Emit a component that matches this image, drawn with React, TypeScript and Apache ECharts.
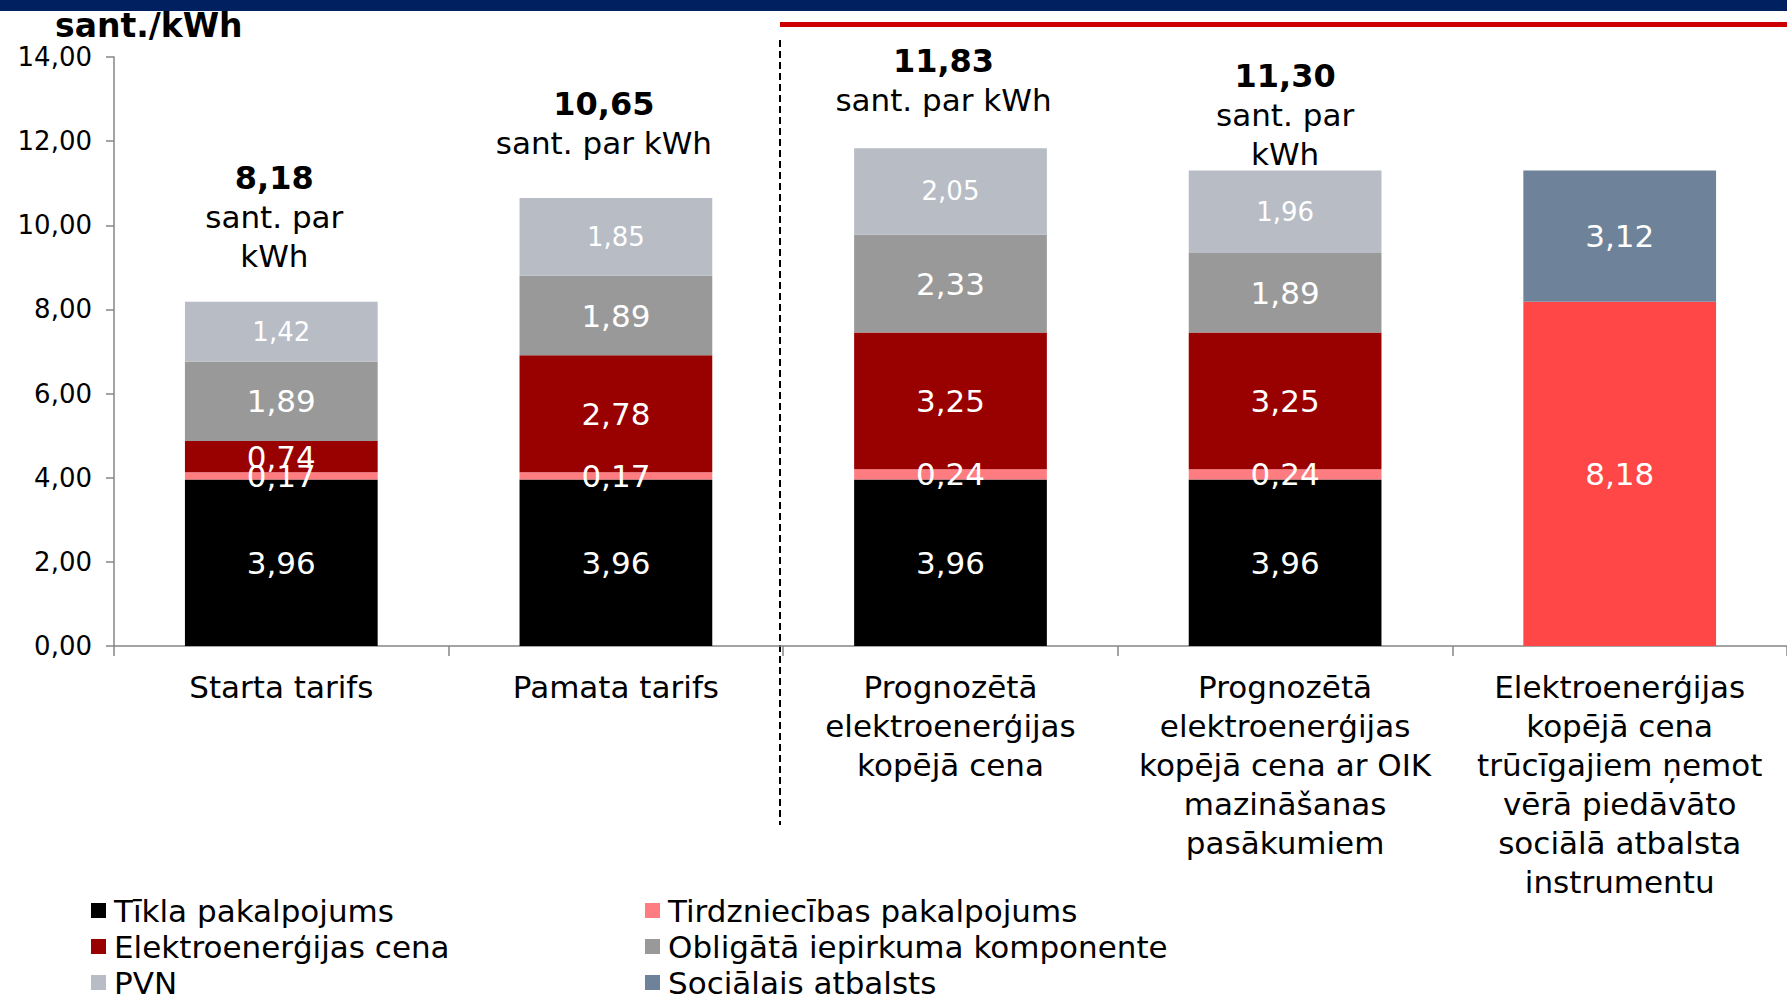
import React, { useEffect, useRef } from "react";
import * as echarts from "echarts";

const FONT = "'DejaVu Sans', Verdana, sans-serif";

const categories = [
  "Starta tarifs",
  "Pamata tarifs",
  "Prognozētā\nelektroenerģijas\nkopējā cena",
  "Prognozētā\nelektroenerģijas\nkopējā cena ar OIK\nmazināšanas\npasākumiem",
  "Elektroenerģijas\nkopējā cena\ntrūcīgajiem ņemot\nvērā piedāvāto\nsociālā atbalsta\ninstrumentu",
];

const seriesNames = [
  "Tīkla pakalpojums",
  "Tirdzniecības pakalpojums",
  "Elektroenerģijas cena",
  "Obligātā iepirkuma komponente",
  "PVN",
  "Sociālais atbalsts",
];

const tiklaPakalpojums = [3.96, 3.96, 3.96, 3.96, null];
const tirdzniecibasPakalpojums = [0.17, 0.17, 0.24, 0.24, null];
const elektroenergijasCena = [0.74, 2.78, 3.25, 3.25, null];
const obligataKomponente = [1.89, 1.89, 2.33, 1.89, null];
const pvn = [1.42, 1.85, 2.05, 1.96, null];
const kopejaCenaTrucigajiem = [null, null, null, null, 8.18];
const socialaisAtbalsts = [null, null, null, null, 3.12];

const totalCaptions = ["sant. par\nkWh", "sant. par kWh", "sant. par kWh", "sant. par\nkWh", ""];

const yMin = 0;
const yMax = 14;
const yInterval = 2;

// label placement (offsets in px), kept apart from data
const totalLabelOffsets = [
  [-7, -26],
  [-12, -35],
  [-7, -28],
  [0, 3],
  [0, 0],
];

const colors = {
  tikla: "#000000",
  tirdz: "#FF7C80",
  elektro: "#990000",
  oik: "#999999",
  pvn: "#B7BCC5",
  kopeja: "#FF4747",
  soc: "#6E8399",
};

const fmt = (v: number) => v.toFixed(2).replace(".", ",");

const stackSeq = [tiklaPakalpojums, tirdzniecibasPakalpojums, elektroenergijasCena, obligataKomponente, pvn, kopejaCenaTrucigajiem, socialaisAtbalsts];
const totals = categories.map((_, i) =>
  stackSeq.reduce((s, arr) => s + ((arr[i] as number | null) ?? 0), 0)
);

export default function App() {
  const ref = useRef<HTMLDivElement>(null);

  useEffect(() => {
    if (!ref.current) return;
    const chart = echarts.init(ref.current, null, { renderer: "svg" });

    const barLabel = (size: number) => ({
      show: true,
      position: "inside",
      color: "#ffffff",
      fontFamily: FONT,
      fontSize: size,
      formatter: (p: any) => (p.value == null ? "" : fmt(p.value)),
    });

    const bar = (name: string, data: (number | null)[], color: string, labelSize = 31) => ({
      name,
      type: "bar",
      stack: "total",
      barWidth: "57.6%",
      data,
      itemStyle: { color },
      label: barLabel(labelSize),
      emphasis: { disabled: true },
    });

    const legendCommon = {
      orient: "vertical",
      padding: 0,
      itemGap: 5,
      itemWidth: 15,
      itemHeight: 15,
      icon: "rect",
      selectedMode: false,
      height: 200,
      textStyle: {
        fontFamily: FONT,
        fontSize: 31,
        lineHeight: 31,
        color: "#000",
        padding: [0, 0, 0, 3],
      },
    };

    const option: any = {
      animation: false,
      backgroundColor: "#ffffff",
      textStyle: { fontFamily: FONT },
      grid: { left: 114, right: 0, top: 57, bottom: 356, containLabel: false },
      legend: [
        { ...legendCommon, left: 91, top: 895, data: [seriesNames[0], seriesNames[2], seriesNames[4]] },
        { ...legendCommon, left: 645, top: 895, data: [seriesNames[1], seriesNames[3], seriesNames[5]] },
      ],
      xAxis: {
        type: "category",
        data: categories,
        axisLine: { lineStyle: { color: "#868686", width: 1.5 } },
        axisTick: { show: true, length: 10, lineStyle: { color: "#868686", width: 1.5 } },
        axisLabel: {
          interval: 0,
          margin: 21,
          color: "#000",
          fontFamily: FONT,
          fontSize: 31,
          lineHeight: 39,
        },
      },
      yAxis: {
        type: "value",
        min: yMin,
        max: yMax,
        interval: yInterval,
        splitLine: { show: false },
        axisLine: { show: true, lineStyle: { color: "#868686", width: 1.5 } },
        axisTick: { show: true, length: 8, lineStyle: { color: "#868686", width: 1.5 } },
        axisLabel: {
          margin: 22,
          color: "#000",
          fontFamily: FONT,
          fontSize: 26,
          formatter: (v: number) => fmt(v),
        },
      },
      series: [
        bar(seriesNames[0], tiklaPakalpojums, colors.tikla),
        bar(seriesNames[1], tirdzniecibasPakalpojums, colors.tirdz),
        bar(seriesNames[2], elektroenergijasCena, colors.elektro),
        bar(seriesNames[3], obligataKomponente, colors.oik),
        bar(seriesNames[4], pvn, colors.pvn, 26),
        bar("Kopējā cena trūcīgajiem", kopejaCenaTrucigajiem, colors.kopeja),
        bar(seriesNames[5], socialaisAtbalsts, colors.soc),
        {
          name: "Kopā",
          type: "line",
          data: totals.map((t, i) => ({
            value: t,
            label: {
              show: totalCaptions[i] !== "",
              offset: totalLabelOffsets[i],
            },
          })),
          symbol: "circle",
          symbolSize: 1,
          itemStyle: { color: "rgba(0,0,0,0)" },
          lineStyle: { width: 0, opacity: 0 },
          silent: true,
          z: 10,
          label: {
            show: true,
            position: "top",
            distance: 0,
            color: "#000",
            formatter: (p: any) => {
              const cap = totalCaptions[p.dataIndex];
              const lines = cap.split("\n").map((l) => `{s|${l}}`).join("\n");
              return `{t|${fmt(p.value)}}\n${lines}`;
            },
            rich: {
              t: { fontFamily: FONT, fontSize: 32, fontWeight: "bold", lineHeight: 39, color: "#000" },
              s: { fontFamily: FONT, fontSize: 31, lineHeight: 39, color: "#000" },
            },
          },
        },
      ],
    };

    chart.setOption(option);

    const c1 = chart.convertToPixel({ xAxisIndex: 0 }, categories[1]) as number;
    const c2 = chart.convertToPixel({ xAxisIndex: 0 }, categories[2]) as number;
    const sepX = Math.round((c1 + c2) / 2) - 3;

    chart.setOption({
      graphic: [
        { type: "rect", left: 0, top: 0, shape: { x: 0, y: 0, width: 1787, height: 11 }, style: { fill: "#002060" }, silent: true },
        { type: "rect", shape: { x: sepX, y: 22, width: 1787 - sepX, height: 5 }, style: { fill: "#CC0000" }, silent: true },
        {
          type: "line",
          shape: { x1: sepX, y1: 40, x2: sepX, y2: 825 },
          style: { stroke: "#000", lineWidth: 2, lineDash: [7, 4] },
          silent: true,
        },
        {
          type: "text",
          x: 55,
          y: 25,
          style: {
            text: "sant./kWh",
            fontFamily: FONT,
            fontSize: 33,
            fontWeight: "bold",
            fill: "#000",
            verticalAlign: "middle",
            align: "left",
          },
          silent: true,
        },
      ],
    });

    return () => chart.dispose();
  }, []);

  return (
    <div
      ref={ref}
      style={{ position: "fixed", left: 0, top: 0, width: 1787, height: 1002, background: "#fff" }}
    />
  );
}
